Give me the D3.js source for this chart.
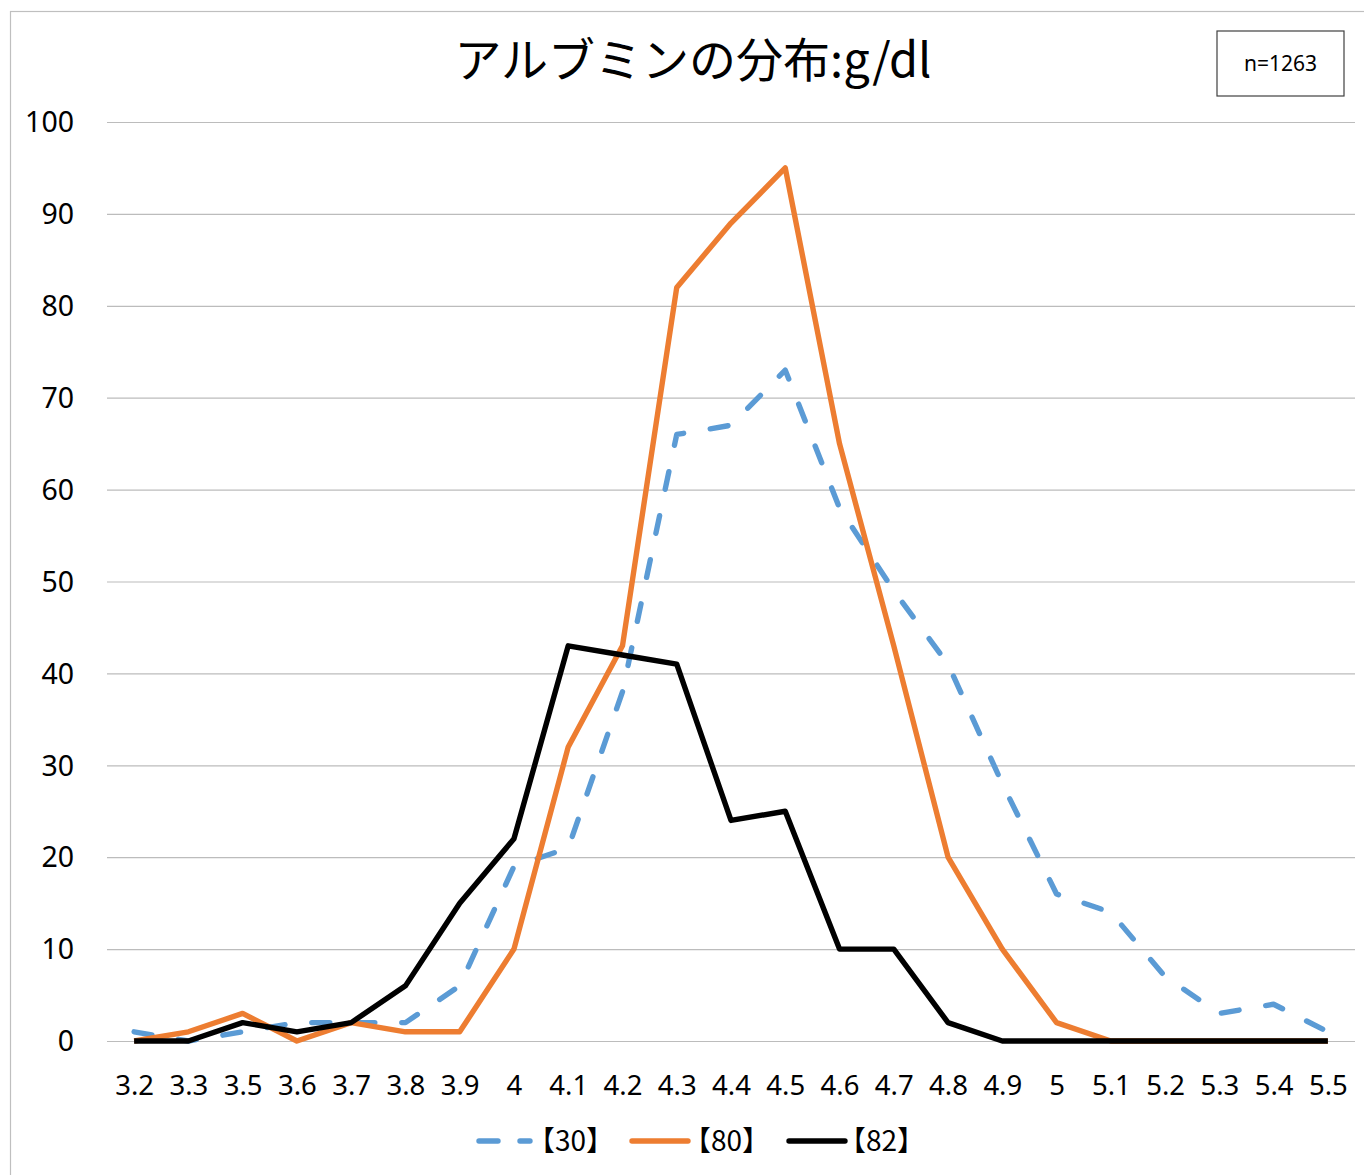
<!DOCTYPE html>
<html>
<head>
<meta charset="utf-8">
<script src="https://cdn.jsdelivr.net/npm/d3@7"></script>
<style>
  html, body { margin: 0; padding: 0; background: #ffffff; }
  svg { display: block; }
</style>
</head>
<body>
<svg id="chart" width="1364" height="1175"></svg>
<script>
// Albumin (g/dl) distribution, three groups
const categories = ["3.2","3.3","3.5","3.6","3.7","3.8","3.9","4","4.1","4.2","4.3","4.4","4.5","4.6","4.7","4.8","4.9","5","5.1","5.2","5.3","5.4","5.5"];
const values30 = [1,0,1,2,2,2,6,19,21,38,66,67,73,58,49,41,28,16,14,7,3,4,1];
const values80 = [0,1,3,0,2,1,1,10,32,43,82,89,95,65,43,20,10,2,0,0,0,0,0];
const values82 = [0,0,2,1,2,6,15,22,43,42,41,24,25,10,10,2,0,0,0,0,0,0,0];
const yTicks = [0,10,20,30,40,50,60,70,80,90,100];
const seriesNames = ["【30】","【80】","【82】"];
const titleText = "アルブミンの分布:g/dl";
const noteText = "n=1263";

const series = [
  { name: seriesNames[0], values: values30, color: "#5B9BD5", dash: "18,27" },
  { name: seriesNames[1], values: values80, color: "#ED7D31", dash: null },
  { name: seriesNames[2], values: values82, color: "#000000", dash: null }
];

const svg = d3.select("#chart");
const font = "'Noto Sans', 'Liberation Sans', sans-serif";
const cjk = "'Noto Sans CJK JP', 'Noto Sans', sans-serif";

// chart frame
svg.append("rect")
  .attr("x", 10.5).attr("y", 11.5)
  .attr("width", 1400).attr("height", 1200)
  .attr("fill", "#ffffff")
  .attr("stroke", "#bfbfbf").attr("stroke-width", 1.2);

const plot = { left: 107, right: 1355, top: 122, bottom: 1041 };

const x = d3.scalePoint()
  .domain(categories)
  .range([plot.left, plot.right])
  .padding(0.5);

const y = d3.scaleLinear()
  .domain([0, 100])
  .range([plot.bottom, plot.top]);

// horizontal gridlines + value labels
const yAxis = d3.axisLeft(y)
  .tickValues(yTicks)
  .tickSize(-(plot.right - plot.left))
  .tickPadding(33)
  .tickFormat(d3.format("d"));

const gy = svg.append("g")
  .attr("transform", `translate(${plot.left},0)`)
  .call(yAxis);
gy.select(".domain").remove();
gy.selectAll(".tick line").attr("stroke", "#bcbcbc").attr("stroke-width", 1.2);
gy.selectAll(".tick text")
  .attr("fill", "#000").attr("font-family", font).attr("font-size", 28.5)
  .attr("dy", "0.34em");

// category labels
const xAxis = d3.axisBottom(x).tickSize(0).tickPadding(54);
const gx = svg.append("g")
  .attr("transform", `translate(0,${plot.bottom})`)
  .call(xAxis);
gx.select(".domain").remove();
gx.selectAll(".tick text")
  .attr("fill", "#000").attr("font-family", font).attr("font-size", 27.5)
  .attr("dy", "0");

// series lines
const line = d3.line()
  .x((d, i) => x(categories[i]))
  .y(d => y(d));

series.forEach(s => {
  svg.append("path")
    .datum(s.values)
    .attr("d", line)
    .attr("fill", "none")
    .attr("stroke", s.color)
    .attr("stroke-width", 5.4)
    .attr("stroke-linejoin", "round")
    .attr("stroke-linecap", s.dash ? "round" : "butt")
    .attr("stroke-dasharray", s.dash);
});

// title
svg.append("text")
  .attr("x", 693).attr("y", 77)
  .attr("text-anchor", "middle")
  .attr("font-family", cjk).attr("font-size", 47)
  .attr("fill", "#000")
  .text(titleText);

// sample-size note
svg.append("rect")
  .attr("x", 1217).attr("y", 31)
  .attr("width", 127).attr("height", 65)
  .attr("fill", "#fff").attr("stroke", "#404040").attr("stroke-width", 1.2);
svg.append("text")
  .attr("x", 1280.5).attr("y", 64)
  .attr("dy", "0.35em")
  .attr("text-anchor", "middle")
  .attr("font-family", font).attr("font-size", 21)
  .attr("fill", "#000")
  .text(noteText);

// legend
const legendItems = [
  { x0: 477, x1: 532, tx: 527 },
  { x0: 632, x1: 688, tx: 683 },
  { x0: 789, x1: 845, tx: 838 }
];
const legend = svg.append("g");
series.forEach((s, i) => {
  const it = legendItems[i];
  legend.append("line")
    .attr("x1", it.x0 + (s.dash ? 2 : 0)).attr("x2", it.x1 - (s.dash ? 2 : 0))
    .attr("y1", 1141).attr("y2", 1141)
    .attr("stroke", s.color).attr("stroke-width", 5.4)
    .attr("stroke-linecap", "round")
    .attr("stroke-dasharray", s.dash ? "19,22" : null);
  legend.append("text")
    .attr("x", it.tx).attr("y", 1141)
    .attr("dy", "0.35em")
    .attr("font-family", cjk).attr("font-size", 28)
    .attr("fill", "#000")
    .text(s.name);
});
</script>
</body>
</html>
